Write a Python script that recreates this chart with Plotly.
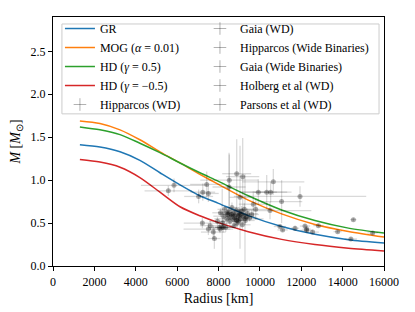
import plotly.graph_objects as go

# ---- model curves ----
radius_curve = [1300, 2270, 3240, 4200, 5170, 6140, 7100, 8000, 9440, 11050, 12660, 14280, 16000]
mass_gr = [1.413, 1.386, 1.33, 1.23, 1.086, 0.945, 0.818, 0.73, 0.587, 0.46, 0.369, 0.307, 0.269]
mass_mog = [1.69, 1.66, 1.586, 1.47, 1.33, 1.20, 1.068, 0.95, 0.768, 0.607, 0.484, 0.403, 0.338]
mass_hd_pos = [1.62, 1.586, 1.53, 1.43, 1.32, 1.20, 1.086, 0.985, 0.818, 0.653, 0.53, 0.441, 0.384]
mass_hd_neg = [1.24, 1.21, 1.15, 1.03, 0.86, 0.69, 0.585, 0.505, 0.40, 0.31, 0.25, 0.208, 0.176]

# ---- observational data ----
hipp_wd_r = [5575, 5850, 7040, 7240, 7430, 7510, 7220, 7510, 8520, 9170, 10650, 11940]
hipp_wd_rerr = [1150, 1600, 700, 600, 800, 500, 900, 1200, 1400, 800, 1500, 3200]
hipp_wd_m = [0.875, 0.94, 0.81, 0.86, 0.95, 0.845, 0.50, 0.43, 1.00, 1.04, 0.98, 0.81]
hipp_wd_merr = [0.06, 0.08, 0.08, 0.10, 0.15, 0.10, 0.06, 0.07, 0.30, 0.45, 0.15, 0.12]

gaia_wd_r = [8100, 8250, 8300, 8400, 8450, 8500, 8550, 8600, 8650, 8700, 8750, 8800, 8850, 8900,
             8950, 9000, 9050, 9100, 9150, 9200, 9300, 9400, 9500, 9600, 8200, 8350, 9250, 8050,
             7750, 7800, 8070, 8230, 8620, 8780, 8980, 8420, 8880, 9120, 7600, 7950]
gaia_wd_rerr = [400, 500, 350, 600, 450, 300, 500, 400, 350, 600, 450, 500, 300, 400,
                550, 450, 350, 500, 400, 600, 450, 500, 400, 350, 300, 500, 450, 400,
                600, 300, 500, 400, 400, 350, 500, 450, 300, 400, 500, 400]
gaia_wd_m = [0.62, 0.58, 0.66, 0.55, 0.60, 0.63, 0.52, 0.57, 0.68, 0.61, 0.54, 0.59, 0.65, 0.50,
             0.57, 0.62, 0.55, 0.60, 0.48, 0.58, 0.53, 0.61, 0.56, 0.60, 0.50, 0.45, 0.66, 0.45,
             0.395, 0.32, 0.43, 0.45, 0.60, 0.56, 0.59, 0.62, 0.53, 0.64, 0.47, 0.52]
gaia_wd_merr = [0.05, 0.06, 0.04, 0.07, 0.05, 0.06, 0.05, 0.04, 0.06, 0.05, 0.07, 0.05, 0.04, 0.06,
                0.05, 0.06, 0.05, 0.04, 0.06, 0.05, 0.05, 0.06, 0.04, 0.05, 0.06, 0.05, 0.07, 0.05,
                0.08, 0.12, 0.05, 0.06, 0.05, 0.04, 0.06, 0.05, 0.05, 0.06, 0.05, 0.05]

hipp_wb_r = [8880, 9280, 8180, 8510, 9040]
hipp_wb_rerr = [700, 900, 600, 800, 500]
hipp_wb_m = [1.075, 0.55, 0.45, 0.92, 0.80]
hipp_wb_merr = [0.40, 0.52, 0.45, 0.40, 0.60]

gaia_wb_r = [9925, 10330, 10520, 11050, 10490, 9680, 9800]
gaia_wb_rerr = [900, 1200, 800, 1000, 2000, 700, 900]
gaia_wb_m = [0.86, 0.86, 0.86, 0.75, 0.645, 0.72, 0.66]
gaia_wb_merr = [0.15, 0.20, 0.12, 0.25, 0.10, 0.15, 0.12]

holberg_r = [10970, 11100, 11700, 12260, 12180, 12260, 12550, 12830, 13760, 14400, 14520, 15450]
holberg_rerr = [300, 250, 200, 300, 250, 200, 300, 250, 200, 300, 150, 250]
holberg_m = [0.46, 0.42, 0.44, 0.415, 0.465, 0.43, 0.395, 0.47, 0.40, 0.315, 0.54, 0.385]
holberg_merr = [0.02, 0.02, 0.03, 0.02, 0.02, 0.03, 0.02, 0.02, 0.02, 0.02, 0.02, 0.02]

parsons_r = [8950, 9350, 8750]
parsons_rerr = [200, 250, 200]
parsons_m = [0.52, 0.57, 0.47]
parsons_merr = [0.02, 0.03, 0.02]

FONT = "Liberation Serif, Times New Roman, serif"
PT_COL = "rgba(0,0,0,0.32)"
ERR_COL = "rgba(0,0,0,0.15)"

fig = go.Figure()

curves = [
    ("GR", mass_gr, "#1f77b4"),
    ("MOG (<i>α</i> = 0.01)", mass_mog, "#ff7f0e"),
    ("HD (<i>γ</i> = 0.5)", mass_hd_pos, "#2ca02c"),
    ("HD (<i>γ</i> = −0.5)", mass_hd_neg, "#d62728"),
]
for name, m, col in curves:
    fig.add_trace(go.Scatter(
        x=radius_curve, y=m, mode="lines", name=name, legend="legend",
        line=dict(color=col, width=1.5, shape="spline", smoothing=0.8),
    ))

datasets = [
    ("Hipparcos (WD)", hipp_wd_r, hipp_wd_rerr, hipp_wd_m, hipp_wd_merr, "legend"),
    ("Gaia (WD)", gaia_wd_r, gaia_wd_rerr, gaia_wd_m, gaia_wd_merr, "legend2"),
    ("Hipparcos (Wide Binaries)", hipp_wb_r, hipp_wb_rerr, hipp_wb_m, hipp_wb_merr, "legend2"),
    ("Gaia (Wide Binaries)", gaia_wb_r, gaia_wb_rerr, gaia_wb_m, gaia_wb_merr, "legend2"),
    ("Holberg et al (WD)", holberg_r, holberg_rerr, holberg_m, holberg_merr, "legend2"),
    ("Parsons et al (WD)", parsons_r, parsons_rerr, parsons_m, parsons_merr, "legend2"),
]

for name, r, rerr, m, merr, leg in datasets:
    fig.add_trace(go.Scatter(
        x=r, y=m, mode="markers", name=name, showlegend=False, legendgroup=name,
        marker=dict(color=PT_COL, size=5),
        error_x=dict(type="data", array=rerr, color=ERR_COL, thickness=1.3, width=0),
        error_y=dict(type="data", array=merr, color=ERR_COL, thickness=1.3, width=0),
    ))
    # legend entry (cross glyph mimicking an error-bar marker)
    fig.add_trace(go.Scatter(
        x=[None], y=[None], mode="markers", name=name, legendgroup=name, legend=leg,
        marker=dict(color="rgba(0,0,0,0.3)", size=9, symbol="cross-thin",
                    line=dict(width=1, color="rgba(0,0,0,0.3)")),
    ))

axis_common = dict(
    showline=True, linecolor="black", linewidth=1.3, mirror=True,
    ticks="outside", ticklen=4, tickwidth=1, tickcolor="black",
    showgrid=False, zeroline=False, automargin=False,
    tickfont=dict(family=FONT, size=12, color="black"),
)

fig.update_xaxes(range=[0, 16000], tickvals=[0, 2000, 4000, 6000, 8000, 10000, 12000, 14000, 16000],
                 tickformat="d",
                 title=dict(text="Radius [km]", font=dict(family=FONT, size=14, color="black"), standoff=5),
                 **axis_common)
fig.update_yaxes(range=[0, 2.9], tickvals=[0, 0.5, 1.0, 1.5, 2.0, 2.5], tickformat=".1f",
                 title=dict(text="<i>M</i> [<i>M</i><sub>⊙</sub>]", font=dict(family=FONT, size=14, color="black"), standoff=6),
                 **axis_common)

# legend frame (single box around both legend columns)
fig.add_shape(type="rect", xref="paper", yref="paper", x0=0.027, x1=0.985, y0=0.611, y1=0.972,
              line=dict(color="#cccccc", width=1), fillcolor="rgba(255,255,255,0.8)", layer="below")

leg_common = dict(
    orientation="v", xanchor="left", yanchor="top", bgcolor="rgba(0,0,0,0)", borderwidth=0,
    font=dict(family=FONT, size=12, color="black"), traceorder="normal",
)

fig.update_layout(
    width=407, height=304,
    margin=dict(l=45, r=31, t=6, b=46),
    plot_bgcolor="white", paper_bgcolor="white",
    font=dict(family=FONT, size=12, color="black"),
    legend=dict(x=0.021, y=1.012, **leg_common),
    legend2=dict(x=0.444, y=1.012, **leg_common),
)

fig.write_html("out.html")
